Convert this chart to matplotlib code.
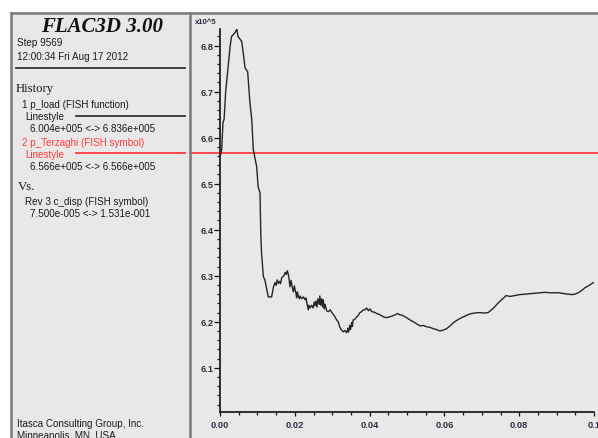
import matplotlib
matplotlib.use("Agg")
import matplotlib.pyplot as plt
from matplotlib.lines import Line2D
from matplotlib.patches import Rectangle
from matplotlib.ticker import MultipleLocator

# ---- history data -------------------------------------------------------
# c_disp (horizontal) and p_load in units of 1e5 (vertical)
c_disp = [0.000075, 0.00045, 0.0008, 0.0011, 0.0015, 0.0021, 0.0027, 0.0031,
          0.0040, 0.0045, 0.0048, 0.0058, 0.0061, 0.0067, 0.0074, 0.0080,
          0.0085, 0.0089, 0.0098, 0.0102, 0.0107, 0.0109, 0.0111, 0.0116,
          0.0120, 0.0125, 0.0129, 0.0138, 0.0143, 0.0147, 0.0150, 0.0153,
          0.0156, 0.0159, 0.0162, 0.0165, 0.0169, 0.0172, 0.0174, 0.0177,
          0.0180, 0.0184, 0.0187, 0.0190, 0.0192, 0.0196, 0.0199, 0.0201,
          0.0203, 0.0205, 0.0207, 0.0209, 0.0212, 0.0214, 0.0218, 0.0223,
          0.0227, 0.0230, 0.0233, 0.0236, 0.0238, 0.0241, 0.0245, 0.0249,
          0.0252, 0.0254, 0.0257, 0.0259, 0.0262, 0.0265, 0.0267, 0.0269,
          0.0272, 0.0274, 0.0276, 0.0279, 0.0281, 0.0285, 0.0290, 0.0295,
          0.0299, 0.0303, 0.0307, 0.0312, 0.0316, 0.0321, 0.0325, 0.0330,
          0.0334, 0.0339, 0.0342, 0.0344, 0.0347, 0.0349, 0.0352, 0.0354,
          0.0356, 0.0360, 0.0366, 0.0370, 0.0374, 0.0379, 0.0383, 0.0388,
          0.0392, 0.0397, 0.0401, 0.0406, 0.0412, 0.0419, 0.0426, 0.0432,
          0.0439, 0.0446, 0.0455, 0.0462, 0.0468, 0.0475, 0.0481, 0.0488,
          0.0495, 0.0508, 0.0521, 0.0535, 0.0544, 0.0553, 0.0561, 0.0570,
          0.0579, 0.0588, 0.0597, 0.0606, 0.0615, 0.0624, 0.0635, 0.0646,
          0.0657, 0.0668, 0.0681, 0.0695, 0.0706, 0.0717, 0.0726, 0.0735,
          0.0744, 0.0753, 0.0760, 0.0765, 0.0775, 0.0788, 0.0802, 0.0815,
          0.0829, 0.0842, 0.0856, 0.0869, 0.0882, 0.0893, 0.0905, 0.0913,
          0.0922, 0.0931, 0.0940, 0.0949, 0.0958, 0.0967, 0.0976, 0.0987,
          0.0998]
p_load = [6.560, 6.574, 6.633, 6.640, 6.698, 6.748, 6.798, 6.820,
          6.828, 6.836, 6.820, 6.809, 6.791, 6.752, 6.743, 6.676,
          6.639, 6.574, 6.537, 6.493, 6.480, 6.393, 6.350, 6.298,
          6.291, 6.270, 6.254, 6.254, 6.276, 6.285, 6.279, 6.291,
          6.283, 6.288, 6.283, 6.296, 6.298, 6.302, 6.307, 6.303,
          6.311, 6.298, 6.276, 6.290, 6.280, 6.265, 6.278, 6.268,
          6.262, 6.252, 6.265, 6.257, 6.250, 6.256, 6.250, 6.254,
          6.248, 6.252, 6.238, 6.226, 6.236, 6.230, 6.236, 6.230,
          6.243, 6.235, 6.245, 6.232, 6.250, 6.238, 6.256, 6.236,
          6.250, 6.232, 6.248, 6.228, 6.238, 6.224, 6.222, 6.226,
          6.220, 6.216, 6.211, 6.204, 6.200, 6.187, 6.182, 6.178,
          6.181, 6.176, 6.186, 6.178, 6.192, 6.183, 6.198, 6.190,
          6.204, 6.205, 6.211, 6.214, 6.220, 6.222, 6.226, 6.226,
          6.230, 6.224, 6.228, 6.222, 6.221, 6.218, 6.216, 6.213,
          6.210, 6.209, 6.211, 6.213, 6.215, 6.218, 6.215, 6.214,
          6.211, 6.204, 6.198, 6.191, 6.192, 6.189, 6.188, 6.185,
          6.183, 6.180, 6.182, 6.185, 6.191, 6.198, 6.204, 6.209,
          6.213, 6.217, 6.219, 6.220, 6.219, 6.220, 6.226, 6.233,
          6.241, 6.248, 6.253, 6.257, 6.255, 6.257, 6.259, 6.260,
          6.261, 6.262, 6.263, 6.264, 6.263, 6.263, 6.263, 6.262,
          6.261, 6.260, 6.259, 6.260, 6.263, 6.268, 6.274, 6.279,
          6.285]
p_terzaghi = 6.566

y_range = (6.004, 6.836)
x_range = (0.0, 0.1)
x_ticks = [0.00, 0.02, 0.04, 0.06, 0.08, 0.10]
x_ticklabels = ["0.00", "0.02", "0.04", "0.06", "0.08", "0.1"]
y_ticks = [6.1, 6.2, 6.3, 6.4, 6.5, 6.6, 6.7, 6.8]

# ---- figure -------------------------------------------------------------
W, H = 598, 439
BG = "#e8e8e8"
FRAME = "#7a7a7a"
RED = "#ff3a3a"
SANS = "Liberation Sans"
SERIF = "Liberation Serif"

fig = plt.figure(figsize=(W / 100, H / 100), dpi=100, facecolor="white")


def fx(px):
    return px / W


def fy(py):
    return 1 - py / H


# grey panel with frame
fig.patches.append(Rectangle((fx(11), 0), 1 - fx(11), fy(13), transform=fig.transFigure,
                             facecolor=BG, edgecolor="none", zorder=-5))
for xs, ys, lw in [((11, 598), (13.5, 13.5), 1.8),
                   ((11, 11), (13.5, 439), 1.8),
                   ((190, 190), (13.5, 439), 1.8)]:
    fig.lines.append(Line2D([fx(x) for x in xs], [fy(y) for y in ys],
                            transform=fig.transFigure, color=FRAME, lw=lw, zorder=-4))

# title block
fig.text(fx(102), fy(32), "FLAC3D 3.00", family=SERIF, weight="bold", style="italic",
         fontsize=15, ha="center", va="baseline", color="#111111")


def label(x, y, s, color="#1a1a1a", size=7.1, family=SANS):
    fig.text(fx(x), fy(y), s, family=family, fontsize=size, ha="left",
             va="baseline", color=color)


label(17, 46.5, "Step 9569")
label(17, 60.5, "12:00:34 Fri Aug 17 2012")
fig.lines.append(Line2D([fx(16), fx(185)], [fy(69), fy(69)], transform=fig.transFigure,
                        color="#333333", lw=1.3))

label(16, 92, "History", size=9.2, family=SERIF)
label(22.5, 107.5, "1 p_load (FISH function)")
label(25, 120, "Linestyle")
fig.lines.append(Line2D([fx(76), fx(185)], [fy(117.3), fy(117.3)], transform=fig.transFigure,
                        color="#333333", lw=1.3))
label(30, 132.5, "6.004e+005 <-> 6.836e+005")
label(22, 146, "2 p_Terzaghi (FISH symbol)", color=RED)
label(25, 158, "Linestyle", color=RED)
fig.lines.append(Line2D([fx(76), fx(185)], [fy(154), fy(154)], transform=fig.transFigure,
                        color=RED, lw=1.3))
label(30, 170, "6.566e+005 <-> 6.566e+005")
label(18, 190.5, "Vs.", size=9.2, family=SERIF)
label(25, 205, "Rev 3 c_disp (FISH symbol)")
label(30, 217, "7.500e-005 <-> 1.531e-001")
label(17, 427, "Itasca Consulting Group, Inc.")
label(17, 439, "Minneapolis, MN, USA")

# ---- history plot ---------------------------------------------------------
ax_l, ax_r, ax_t, ax_b = 220, 594, 30, 413
ax = fig.add_axes([fx(ax_l), fy(ax_b), fx(ax_r - ax_l), (ax_b - ax_t) / H])
ax.set_zorder(3)
ax.set_facecolor("none")
ax.set_xlim(*x_range)
ax.set_ylim(*y_range)
for side in ("top", "right"):
    ax.spines[side].set_visible(False)
for side in ("left", "bottom"):
    ax.spines[side].set_linewidth(1.2)
    ax.spines[side].set_color("#111111")

ax.set_xticks(x_ticks)
ax.set_xticklabels(x_ticklabels)
ax.set_yticks(y_ticks)
ax.set_yticklabels([f"{v:.1f}" for v in y_ticks])
ax.xaxis.set_minor_locator(MultipleLocator(0.005))
ax.yaxis.set_minor_locator(MultipleLocator(0.02))
ax.tick_params(which="major", direction="out", length=4.2, width=0.9, color="#111111",
               labelsize=6.7, labelcolor="#2c3040", pad=0.6)
ax.tick_params(which="minor", direction="out", length=2.4, width=0.9, color="#111111")
ax.tick_params(axis="x", which="major", length=3.0, pad=3.0)
for lab in ax.get_xticklabels() + ax.get_yticklabels():
    lab.set_family(SANS)
    lab.set_weight("bold")

fig.text(fx(195), fy(24), "x10^5", family=SANS, fontsize=5.6, weight="bold",
         color="#2c3040", ha="left", va="baseline")

# p_Terzaghi reference level (extends left to the panel divider)
x0 = (192 - ax_l) / (ax_r - ax_l)
x1 = (W - ax_l) / (ax_r - ax_l)
ax.plot([x0, x1], [p_terzaghi, p_terzaghi], transform=ax.get_yaxis_transform(),
        color=RED, lw=1.3, clip_on=False, zorder=2)

# p_load history
ax.plot(c_disp, p_load, color="#262626", lw=1.0, zorder=3)

fig.savefig("out.png", dpi=100, facecolor="white")
